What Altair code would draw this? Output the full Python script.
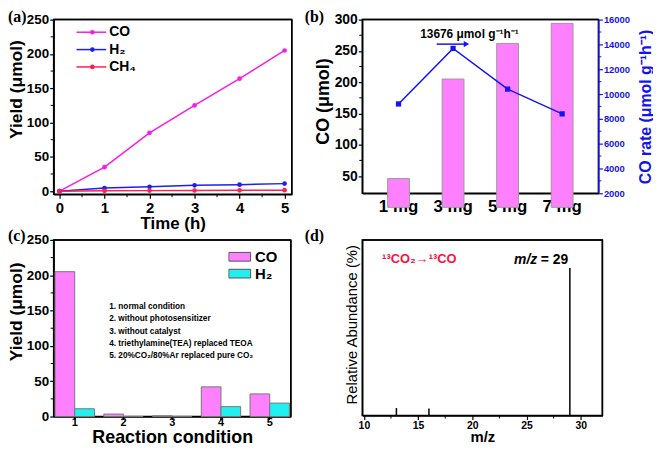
import altair as alt
import pandas as pd

FONT = "Liberation Sans"
SERIF = "Liberation Serif"
BLACK = "#000000"
BLUE = "#1414F0"

# ---------------- data ----------------
# (a) yield vs time
time_h = [0, 1, 2, 3, 4, 5]
yield_co = [0, 35, 85, 125, 164, 205]
yield_h2 = [0, 4.5, 6.5, 8.5, 9.5, 11]
yield_ch4 = [0, 0.5, 0.8, 1.0, 1.2, 1.5]
gas_names_a = ["CO", "H₂", "CH₄"]
gas_colors_a = ["#F51EE6", "#1E1EF0", "#FF1F55"]

# (b) catalyst amount
catalyst_mass = ["1 mg", "3 mg", "5 mg", "7 mg"]
co_amount = [46, 205, 262, 294]
co_rate = [9200, 13676, 10400, 8400]

# (c) control experiments
conditions = ["1", "2", "3", "4", "5"]
cond_co = [205, 3.5, 1.0, 42, 32]
cond_h2 = [11, 0, 0, 14, 19]
gas_names_c = ["CO ", "H₂ "]
gas_colors_c = ["#FF80FF", "#22F0F0"]
condition_notes = [
    "1. normal condition",
    "2. without photosensitizer",
    "3. without catalyst",
    "4. triethylamine(TEA) replaced TEOA",
    "5. 20%CO₂/80%Ar replaced pure CO₂",
]

# (d) mass spectrum
mz_values = [13, 16, 29]
abundance = [4.3, 4.0, 84]

# tick values
a_x_major = [0, 1, 2, 3, 4, 5]
a_x_minor = [0.5, 1.5, 2.5, 3.5, 4.5]
a_y_major = [0, 50, 100, 150, 200, 250]
a_y_minor = [25, 75, 125, 175, 225]
b_y_major = [50, 100, 150, 200, 250, 300]
b_y_minor = [75, 125, 175, 225, 275]
b_r_major = [2000, 4000, 6000, 8000, 10000, 12000, 14000, 16000]
b_r_minor = [3000, 5000, 7000, 9000, 11000, 13000, 15000]
c_y_major = [0, 50, 100, 150, 200, 250]
c_y_minor = [25, 75, 125, 175, 225]
d_x_major = [10, 15, 20, 25, 30]
d_x_minor = [12.5, 17.5, 22.5, 27.5]

# panel sizes
W_A, H_A = 240, 176
W_B, H_B = 238, 175
W_C, H_C = 239, 178
W_D, H_D = 242, 177


def minor_y(values, scale, axis, x0, x1, color=BLACK):
    return alt.Chart(pd.DataFrame({"v": values})).mark_rule(color=color, strokeWidth=1).encode(
        y=alt.Y("v:Q", scale=scale, axis=axis), x=alt.value(x0), x2=alt.value(x1))


def minor_x(values, scale, axis, h):
    return alt.Chart(pd.DataFrame({"v": values})).mark_rule(color=BLACK, strokeWidth=1).encode(
        x=alt.X("v:Q", scale=scale, axis=axis), y=alt.value(h), y2=alt.value(h + 3))


def frame(w, h, right=True):
    d = pd.DataFrame({"f": [0]})
    parts = [alt.Chart(d).mark_rule(color=BLACK, strokeWidth=1.5).encode(
        x=alt.value(0), x2=alt.value(w), y=alt.value(0))]
    if right:
        parts.append(alt.Chart(d).mark_rule(color=BLACK, strokeWidth=1.5).encode(
            x=alt.value(w), y=alt.value(0), y2=alt.value(h)))
    return parts


def label(txt, x, y, size=18, color=BLACK, font=SERIF, weight="bold", style="normal", align="left"):
    return alt.Chart(pd.DataFrame({"t": [txt]})).mark_text(
        font=font, fontSize=size, fontWeight=weight, fontStyle=style, color=color,
        align=align, baseline="alphabetic").encode(text="t:N", x=alt.value(x), y=alt.value(y))


# ---------------- panel (a) ----------------
df_a = pd.DataFrame({
    "time": time_h * 3,
    "yield": yield_co + yield_h2 + yield_ch4,
    "gas": [g for g in gas_names_a for _ in time_h],
})
xa = alt.Scale(domain=[-0.13, 5.16], nice=False, zero=False)
ya = alt.Scale(domain=[-4.5, 250], nice=False, zero=False)
xa_axis = alt.Axis(values=a_x_major, title="Time (h)", labelFontSize=15, titleFontSize=17,
                   labelPadding=2, titlePadding=1)
ya_axis = alt.Axis(values=a_y_major, title="Yield (μmol)", labelFontSize=13.5, titleFontSize=17.5,
                   labelPadding=1, titlePadding=1, titleY=70)
lines_a = alt.Chart(df_a).mark_line(
    strokeWidth=1.5, point=alt.OverlayMarkDef(filled=True, size=22)
).encode(
    x=alt.X("time:Q", scale=xa, axis=xa_axis),
    y=alt.Y("yield:Q", scale=ya, axis=ya_axis),
    color=alt.Color("gas:N", scale=alt.Scale(domain=gas_names_a, range=gas_colors_a), legend=None),
)
legend_a = []
for i, (g, c) in enumerate(zip(gas_names_a, gas_colors_a)):
    yy = 12.7 + 17.5 * i
    d = pd.DataFrame({"t": [g]})
    legend_a.append(alt.Chart(d).mark_rule(color=c, strokeWidth=1.5).encode(
        x=alt.value(23), x2=alt.value(53), y=alt.value(yy)))
    legend_a.append(alt.Chart(d).mark_point(color=c, filled=True, size=22, opacity=1).encode(
        x=alt.value(39), y=alt.value(yy)))
    legend_a.append(alt.Chart(d).mark_text(font=FONT, fontWeight="bold", fontSize=14, align="left",
                                           baseline="middle").encode(
        text="t:N", x=alt.value(56), y=alt.value(yy)))

panel_a = alt.layer(
    lines_a,
    minor_y(a_y_minor, ya, ya_axis, -3, 0),
    minor_x(a_x_minor, xa, xa_axis, H_A),
    *frame(W_A, H_A),
    *legend_a,
    label("(a)", -46, 2, size=16),
).properties(width=W_A, height=H_A)

# ---------------- panel (b) ----------------
df_b = pd.DataFrame({"mass": catalyst_mass, "amount": co_amount, "rate": co_rate})
xb = alt.X("mass:N", sort=catalyst_mass,
           scale=alt.Scale(paddingInner=0.6, paddingOuter=0.465),
           axis=alt.Axis(title=None, labelAngle=0, ticks=False, labelFontSize=17, labelPadding=5))
yb = alt.Scale(domain=[22.5, 300], nice=False, zero=False)
yr = alt.Scale(domain=[2000, 16000], nice=False, zero=False)
yb_axis = alt.Axis(values=b_y_major, title="CO (μmol)", labelFontSize=14, titleFontSize=18,
                   labelPadding=1, titlePadding=2, titleY=82)
yr_axis = alt.Axis(orient="right", values=b_r_major, format="d", title="CO rate (μmol g⁻¹h⁻¹)",
                   labelFontSize=9.5, labelColor=BLUE, tickColor=BLUE, domainColor=BLUE,
                   titleColor=BLUE, titleFontSize=16, titleAngle=270, titleBaseline="top",
                   labelPadding=1, titlePadding=8)
bars_b = alt.Chart(df_b).mark_bar(fill="#FF80FF", stroke="#9a9a9a", strokeWidth=1).encode(
    x=xb,
    y=alt.Y("amount:Q", scale=yb, axis=yb_axis),
)
line_b = alt.Chart(df_b).mark_line(
    color=BLUE, strokeWidth=1.5,
    point=alt.OverlayMarkDef(shape="square", size=28, filled=True, color=BLUE)
).encode(
    x=xb,
    y=alt.Y("rate:Q", scale=yr, axis=yr_axis),
)
arrow_df = pd.DataFrame({"t": ["13676 μmol g⁻¹h⁻¹"]})
arrow_line = alt.Chart(arrow_df).mark_rule(color=BLUE, strokeWidth=1.5).encode(
    x=alt.value(75), x2=alt.value(104), y=alt.value(24.7))
arrow_head = alt.Chart(arrow_df).mark_point(shape="triangle-right", filled=True, color=BLUE,
                                            size=40, opacity=1).encode(
    x=alt.value(105), y=alt.value(24.7))
arrow_text = alt.Chart(arrow_df).mark_text(font=FONT, fontWeight="bold", fontSize=12,
                                           align="center", baseline="alphabetic").encode(
    text="t:N", x=alt.value(108), y=alt.value(19))

panel_b = alt.layer(
    alt.layer(bars_b, minor_y(b_y_minor, yb, yb_axis, -3, 0)),
    alt.layer(line_b, minor_y(b_r_minor, yr, yr_axis, W_B, W_B + 3, BLUE),
              *frame(W_B, H_B, right=False),
              arrow_line, arrow_head, arrow_text, label("(b)", -58, 2, size=16)),
).resolve_scale(y="independent").properties(width=W_B, height=H_B)

# ---------------- panel (c) ----------------
df_c = pd.DataFrame({
    "cond": conditions * 2,
    "gas": [g for g in gas_names_c for _ in conditions],
    "yield": cond_co + cond_h2,
})
yc = alt.Scale(domain=[0, 250], nice=False, zero=False)
yc_axis = alt.Axis(values=c_y_major, title="Yield (μmol)", labelFontSize=13.5, titleFontSize=17.5,
                   labelPadding=1, titlePadding=1, titleY=72)
bars_c = alt.Chart(df_c).mark_bar(stroke="#777777", strokeWidth=1).encode(
    x=alt.X("cond:N", sort=conditions, scale=alt.Scale(paddingInner=0.193, paddingOuter=0.029),
            axis=alt.Axis(title="Reaction condition", labelAngle=0, labelFontSize=11, titleFontSize=18,
                          tickSize=3, labelPadding=-3, titleBaseline="alphabetic", titleY=26)),
    xOffset=alt.XOffset("gas:N", sort=gas_names_c, scale=alt.Scale(paddingInner=0, paddingOuter=0)),
    y=alt.Y("yield:Q", scale=yc, axis=yc_axis),
    color=alt.Color("gas:N", scale=alt.Scale(domain=gas_names_c, range=gas_colors_c),
                    legend=alt.Legend(orient="none", legendX=176, legendY=9, title=None,
                                      symbolType="M-1,-0.4H1V0.4H-1Z", symbolSize=484,
                                      symbolStrokeColor="#555555", symbolStrokeWidth=1,
                                      symbolOpacity=1, labelFont=FONT, labelFontWeight="bold",
                                      labelFontSize=15, labelOffset=4, clipHeight=16,
                                      rowPadding=1, padding=0)),
)
notes_c = alt.Chart(pd.DataFrame({"t": [0]})).mark_text(
    font=FONT, fontWeight="bold", fontSize=8.3, align="left", baseline="middle", lineHeight=12.4
).encode(text=alt.value(condition_notes), x=alt.value(56), y=alt.value(67.7))

panel_c = alt.layer(
    bars_c,
    minor_y(c_y_minor, yc, yc_axis, -3, 0),
    *frame(W_C, H_C),
    notes_c,
    label("(c)", -46, 1, size=16),
).properties(width=W_C, height=H_C)

# ---------------- panel (d) ----------------
df_d = pd.DataFrame({"mz": mz_values, "ab": abundance})
xd = alt.Scale(domain=[9.85, 32], nice=False, zero=False)
yd = alt.Scale(domain=[0, 100], nice=False, zero=False)
xd_axis = alt.Axis(values=d_x_major, title="m/z", labelFontSize=10.5, titleFontSize=15,
                   labelPadding=1, titleBaseline="alphabetic", titleY=26)
peaks_d = alt.Chart(df_d).mark_rule(color=BLACK, strokeWidth=1.5).encode(
    x=alt.X("mz:Q", scale=xd, axis=xd_axis),
    y=alt.Y("ab:Q", scale=yd, axis=alt.Axis(labels=False, ticks=False, title="Relative Abundance (%)",
                                            titleFontWeight="normal", titleFontSize=15, titlePadding=3,
                                            titleY=85)),
    y2=alt.datum(0),
)
panel_d = alt.layer(
    peaks_d,
    minor_x(d_x_minor, xd, xd_axis, H_D),
    *frame(W_D, H_D),
    label("¹³CO₂→¹³CO", 20, 23, size=13, color="#FF1040", font=FONT),
    label("m/z", 153, 24, size=14, font=FONT, style="italic"),
    label("= 29", 180, 24, size=14, font=FONT),
    label("(d)", -58, 1, size=16),
).properties(width=W_D, height=H_D)

chart = alt.concat(
    panel_a, panel_b, panel_c, panel_d, columns=2, bounds="flush",
    spacing={"row": 46, "column": 71},
).resolve_scale(color="independent").properties(
    autosize=alt.AutoSizeParams(type="none"),
    padding={"left": 46, "top": 10, "right": 604, "bottom": 429},
).configure_axis(
    labelFont=FONT, labelFontWeight="bold", labelColor=BLACK, titleFont=FONT, titleFontWeight="bold",
    titleColor=BLACK, domainColor=BLACK, domainWidth=1.5, tickColor=BLACK, tickWidth=1.2, tickSize=4,
    grid=False, labelFlush=False, labelOverlap=False,
).configure_view(stroke=BLACK, strokeWidth=1.5)

chart.save("out.html", embed_options={"renderer": "svg", "actions": False})
